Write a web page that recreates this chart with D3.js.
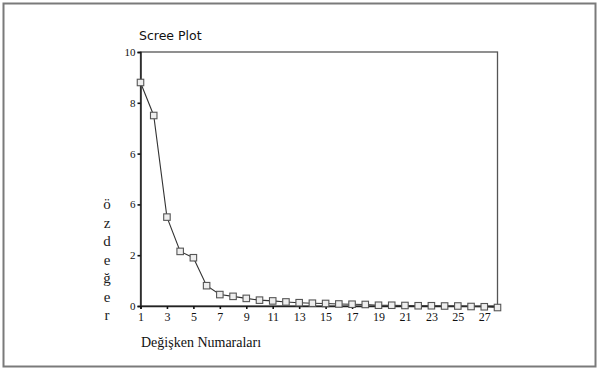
<!DOCTYPE html>
<html>
<head>
<meta charset="utf-8">
<script src="https://cdn.jsdelivr.net/npm/d3@7"></script>
<style>
  body { margin: 0; background: #fff; }
  svg { display: block; }
</style>
</head>
<body>
<div id="chart"></div>
<script>
// Scree plot data (eigenvalue per component)
const components = d3.range(1, 29);
const eigenvalues = [8.8, 7.5, 3.5, 2.15, 1.9, 0.8, 0.45, 0.38, 0.3, 0.23,
                     0.2, 0.16, 0.13, 0.11, 0.1, 0.08, 0.07, 0.06, 0.03, 0.03,
                     0.02, 0.01, 0.01, 0.0, 0.0, -0.02, -0.03, -0.06];
const yTickValues = [0, 2, 4, 6, 8, 10];
const yTickLabels = ['0', '2', '6', '6', '8', '10'];   // as printed in the source
const xTickValues = d3.range(1, 28, 2);
const yTitleLetters = ['ö', 'z', 'd', 'e', 'ğ', 'e', 'r'];

const width = 599, height = 370;
const svg = d3.select('#chart').append('svg')
    .attr('width', width)
    .attr('height', height);

// outer frame
svg.append('rect')
    .attr('x', 3.5).attr('y', 3.5)
    .attr('width', 592).attr('height', 363)
    .attr('fill', 'none')
    .attr('stroke', '#7a7a7a')
    .attr('stroke-width', 2);

const x = d3.scaleLinear().domain([1, 28]).range([140.5, 497.5]);
const y = d3.scaleLinear().domain([0, 10]).range([306, 52]);

// plot box
svg.append('rect')
    .attr('x', x(1)).attr('y', y(10))
    .attr('width', x(28) - x(1)).attr('height', y(0) - y(10))
    .attr('fill', 'none')
    .attr('stroke', '#555')
    .attr('stroke-width', 1.3);

const serif = '"Liberation Serif", "DejaVu Serif", serif';

// y axis
const yAxis = d3.axisLeft(y)
    .tickValues(yTickValues)
    .tickSize(3)
    .tickPadding(2)
    .tickFormat((d, i) => yTickLabels[i]);
const gy = svg.append('g')
    .attr('transform', `translate(${x(1)},0)`)
    .call(yAxis);
gy.select('.domain').attr('stroke', '#222').attr('stroke-width', 1.5);
gy.selectAll('.tick line').attr('stroke', '#111').attr('stroke-width', 1.6);
gy.selectAll('.tick text')
    .style('font-family', serif)
    .style('font-size', '11px')
    .attr('fill', '#111');

// x axis
const xAxis = d3.axisBottom(x)
    .tickValues(xTickValues)
    .tickSize(3)
    .tickPadding(3);
const gx = svg.append('g')
    .attr('transform', `translate(0,${y(0)})`)
    .call(xAxis);
gx.select('.domain').attr('stroke', '#222').attr('stroke-width', 1.5);
gx.selectAll('.tick line').attr('stroke', '#111').attr('stroke-width', 1.6);
gx.selectAll('.tick text')
    .style('font-family', serif)
    .style('font-size', '12px')
    .attr('fill', '#111');

// line
const line = d3.line()
    .x((d, i) => x(components[i]))
    .y(d => y(d));
svg.append('path')
    .datum(eigenvalues)
    .attr('fill', 'none')
    .attr('stroke', '#333')
    .attr('stroke-width', 1.1)
    .attr('d', line);

// square markers
const s = 6.5;
svg.selectAll('.marker')
    .data(eigenvalues)
    .enter()
    .append('rect')
    .attr('class', 'marker')
    .attr('x', (d, i) => x(components[i]) - s / 2)
    .attr('y', d => y(d) - s / 2)
    .attr('width', s)
    .attr('height', s)
    .attr('fill', '#eeeeee')
    .attr('stroke', '#555')
    .attr('stroke-width', 1.1);

// title
svg.append('text')
    .attr('x', 139).attr('y', 40)
    .style('font-family', '"DejaVu Sans", Verdana, sans-serif')
    .style('font-size', '12.5px')
    .attr('fill', '#111')
    .text('Scree Plot');

// y title as stacked letters
svg.selectAll('.ytitle')
    .data(yTitleLetters)
    .enter()
    .append('text')
    .attr('class', 'ytitle')
    .attr('x', 107)
    .attr('y', (d, i) => 209 + i * 18.5)
    .attr('text-anchor', 'middle')
    .style('font-family', serif)
    .style('font-size', '15px')
    .attr('fill', '#222')
    .text(d => d);

// x title
svg.append('text')
    .attr('x', 141).attr('y', 347)
    .style('font-family', serif)
    .style('font-size', '14px')
    .attr('fill', '#111')
    .text('Değişken Numaraları');
</script>
</body>
</html>
